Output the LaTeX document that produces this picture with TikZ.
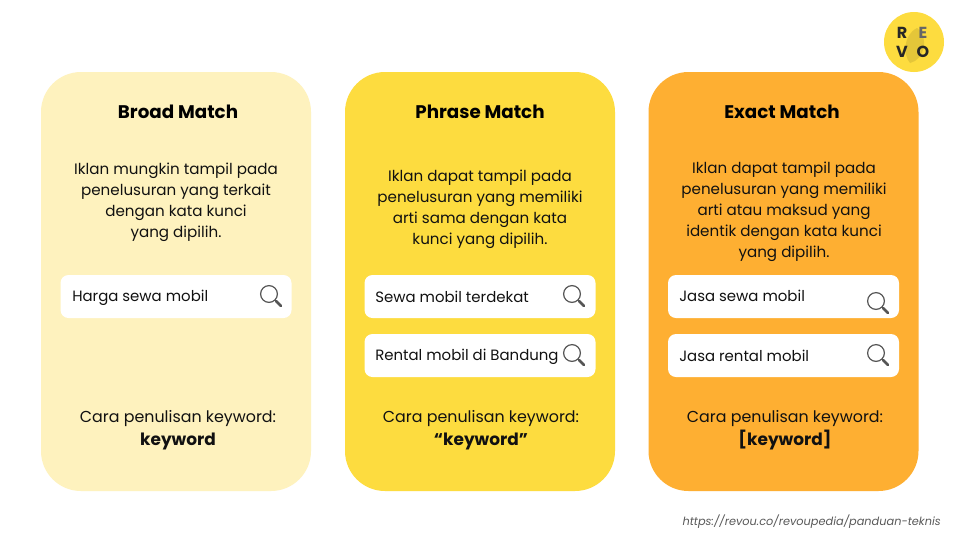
\documentclass[tikz,border=0pt]{standalone}
\usepackage{fontspec}
\setmainfont{Poppins}
\definecolor{cardA}{HTML}{FEF2BE}
\definecolor{cardB}{HTML}{FDDC3F}
\definecolor{cardC}{HTML}{FEAF32}
\definecolor{logoY}{HTML}{FDDC3F}
\definecolor{inkc}{HTML}{111111}
\definecolor{glass}{HTML}{555555}
\tikzset{
  x=0.75pt,y=-0.75pt,
  card/.style={rounded corners=30pt,minimum width=202.5pt,minimum height=314.25pt,inner sep=0pt},
  searchbox/.style={fill=white,rounded corners=6pt,minimum width=173.25pt,minimum height=32.25pt,inner sep=0pt},
  title/.style={font=\fontsize{13.7}{16}\selectfont\bfseries,text=black,anchor=center},
  body/.style={font=\fontsize{11.35}{15.75}\selectfont,text=inkc,align=center,anchor=center},
  foot/.style={font=\fontsize{11.9}{17.2}\selectfont,text=inkc,align=center,anchor=center},
  query/.style={font=\fontsize{11.2}{14}\selectfont,text=inkc,anchor=west,inner sep=0pt},
  lens/.style={draw=glass,line width=0.9pt,fill=none},
  handle/.style={draw=glass,line width=2pt,line cap=round},
  logotext/.style={font=\fontsize{12}{12}\selectfont\bfseries,text=black!85},
}
\newcommand{\lensat}[2]{%
  \draw[lens] (#1,#2) circle (6.3pt);
  \draw[handle] (#1+7,#2+7) -- (#1+12,#2+12);
}
\newcommand{\keyw}[1]{\fontsize{12.7}{17.2}\selectfont\textbf{#1}}
\begin{document}
\begin{tikzpicture}
\useasboundingbox (0,0) rectangle (960,540);
\fill[white] (0,0) rectangle (960,540);
% logo
\node[circle,fill=logoY,minimum size=45pt,inner sep=0pt] (logo) at (914,42) {};
\fill[black!10!logoY] (917,28) .. controls (903,35) and (903,55) .. (910,63) .. controls (924,60) and (930,38) .. (917,28);
\node[logotext] (lr) at (902,33) {R};
\node[logotext,text=black!60] (le) at (923,33) {E};
\node[logotext] (lv) at (902,52) {V};
\node[logotext] (lo) at (923,52) {O};
% cards
\node[card,fill=cardA] (c1) at (176,281.5) {};
\node[card,fill=cardB] (c2) at (480,281.5) {};
\node[card,fill=cardC] (c3) at (783.5,281.5) {};
% titles
\node[title] (t1) at (178,112) {Broad Match};
\node[title] (t2) at (480,112) {Phrase Match};
\node[title] (t3) at (782,112) {Exact Match};
% bodies
\node[body] (b1) at (176,202) {Iklan mungkin tampil pada\\penelusuran yang terkait\\dengan kata kunci\\yang dipilih.};
\node[body] (b2) at (480,209) {Iklan dapat tampil pada\\penelusuran yang memiliki\\arti sama dengan kata\\kunci yang dipilih.};
\node[body] (b3) at (784,212) {Iklan dapat tampil pada\\penelusuran yang memiliki\\arti atau maksud yang\\identik dengan kata kunci\\yang dipilih.};
% search boxes
\node[searchbox] (s1) at (176,296.5) {};
\node[searchbox] (s2) at (480,296.5) {};
\node[searchbox] (s3) at (480,355.5) {};
\node[searchbox] (s4) at (783.5,296.5) {};
\node[searchbox] (s5) at (783.5,355.5) {};
\node[query] (q1) at (72,298) {Harga sewa mobil};
\node[query] (q2) at (375,297) {Sewa mobil terdekat};
\node[query] (q3) at (375,357) {Rental mobil di Bandung};
\node[query] (q4) at (679,296) {Jasa sewa mobil};
\node[query] (q5) at (679,356) {Jasa rental mobil};
\lensat{269}{294}
\lensat{572}{294}
\lensat{572}{353}
\lensat{876}{301}
\lensat{876}{353}
% footers
\node[foot] (f1) at (178,430) {Cara penulisan keyword:\\\keyw{keyword}};
\node[foot] (f2) at (481,430) {Cara penulisan keyword:\\\keyw{“keyword”}};
\node[foot] (f3) at (785,430) {Cara penulisan keyword:\\\keyw{[keyword]}};
% source
\node[font=\itshape\fontsize{8.5}{11}\selectfont,text=black!65,anchor=east,inner sep=0pt] (src) at (941,522) {https://revou.co/revoupedia/panduan-teknis};
\end{tikzpicture}
\end{document}
